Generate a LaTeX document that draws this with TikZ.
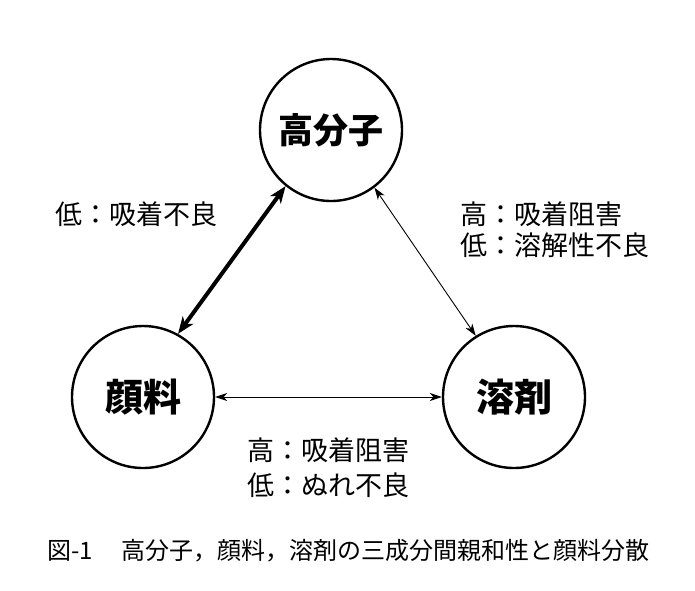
\documentclass[tikz,border=0pt]{standalone}
\usepackage{fontspec}
\setmainfont{Noto Sans CJK JP}
\usetikzlibrary{arrows.meta}
\begin{document}
\begin{tikzpicture}[x=1pt,y=-1pt,
  comp/.style={circle,draw,line width=2.4pt,minimum size=142pt,inner sep=0pt,font=\bfseries\fontsize{38}{42}\selectfont},
  lbl/.style={inner sep=0pt,align=left,anchor=west},
  thickarrow/.style={line width=4pt,{Stealth[length=17pt,width=13pt,inset=5pt]}-{Stealth[length=17pt,width=13pt,inset=5pt]}},
  thinarrow/.style={line width=0.9pt,{Stealth[length=12pt,width=8pt,inset=3.5pt]}-{Stealth[length=12pt,width=8pt,inset=3.5pt]}}
]
\fill[white] (0,0) rectangle (695,590);
\useasboundingbox (0,0) rectangle (695,590);
\node[comp,font=\bfseries\fontsize{35}{40}\selectfont] (poly) at (331,130) {高分子};
\node[comp] (pig) at (143,397) {顔料};
\node[comp] (solv) at (514,397) {溶剤};
\draw[thickarrow] (pig.61) -- (poly.231.7);
\draw[thinarrow] (poly.307) -- (solv.122);
\draw[thinarrow] (pig.east) -- (solv.west);
\node[lbl,font=\fontsize{27}{31}\selectfont] (l1) at (55,214) {低：吸着不良};
\node[lbl,font=\fontsize{27}{31}\selectfont] (l2) at (460,230) {高：吸着阻害\\低：溶解性不良};
\node[lbl,font=\fontsize{27}{35}\selectfont] (l3) at (247,467.5) {高：吸着阻害\\低：ぬれ不良};
\node[lbl,font=\fontsize{24}{26}\selectfont] (c1) at (47,551) {図-1};
\node[lbl,font=\fontsize{24}{26}\selectfont] (c2) at (121,551) {高分子，顔料，溶剤の三成分間親和性と顔料分散};
\end{tikzpicture}
\end{document}
